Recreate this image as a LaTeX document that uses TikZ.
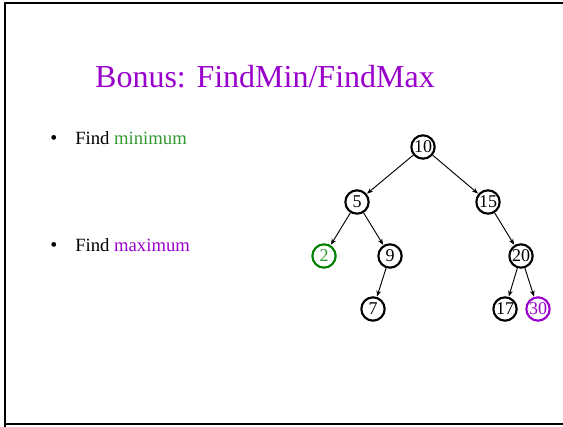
\documentclass[tikz,border=0pt]{standalone}
\usepackage{fontspec}
\setmainfont{Liberation Serif}
\usetikzlibrary{arrows.meta}
\definecolor{ttlpurple}{HTML}{9900CC}
\definecolor{mingreen}{HTML}{339933}
\definecolor{circgreen}{HTML}{008000}
\begin{document}
\begin{tikzpicture}[x=0.75pt,y=-0.75pt,
  tnode/.style={circle,draw,line width=1.6pt,minimum size=17.5pt,inner sep=0pt,font=\fontsize{13.5}{14}\selectfont},
  tedge/.style={-{Stealth[length=4.5pt,width=3.5pt]},line width=0.7pt,shorten >=0.3pt},
  bullettxt/.style={anchor=base west,font=\fontsize{14}{15}\selectfont,inner sep=0pt}]
\useasboundingbox (0,0) rectangle (563,427);
\draw[line width=1.5pt] (5,427) -- (5,3.5) -- (563,3.5);
\draw[line width=1.5pt] (5,424) -- (563,424);
\node[anchor=base,font=\fontsize{24}{28}\selectfont,text=ttlpurple,inner sep=0pt] (title) at (265,88) {Bonus: FindMin/FindMax};
\node[bullettxt,font=\fontsize{15}{15}\selectfont] (b1) at (50,145) {\textbullet};
\node[bullettxt] (t1) at (75,145) {Find \textcolor{mingreen}{minimum}};
\node[bullettxt,font=\fontsize{15}{15}\selectfont] (b2) at (50,252) {\textbullet};
\node[bullettxt] (t2) at (75,252) {Find \textcolor{ttlpurple}{maximum}};
\node[tnode] (n10) at (423,147) {10};
\node[tnode] (n5) at (357,202) {5};
\node[tnode] (n15) at (488,202) {15};
\node[tnode,draw=circgreen,text=mingreen] (n2) at (324,256) {2};
\node[tnode] (n9) at (390,256) {9};
\node[tnode] (n20) at (521,256) {20};
\node[tnode] (n7) at (373,309) {7};
\node[tnode] (n17) at (505,309) {17};
\node[tnode,draw=ttlpurple,text=ttlpurple] (n30) at (538,309) {30};
\draw[tedge] (n10) -- (n5);
\draw[tedge] (n10) -- (n15);
\draw[tedge] (n5) -- (n2);
\draw[tedge] (n5) -- (n9);
\draw[tedge] (n9) -- (n7);
\draw[tedge] (n15) -- (n20);
\draw[tedge] (n20) -- (n17);
\draw[tedge] (n20) -- (n30);
\end{tikzpicture}
\end{document}
